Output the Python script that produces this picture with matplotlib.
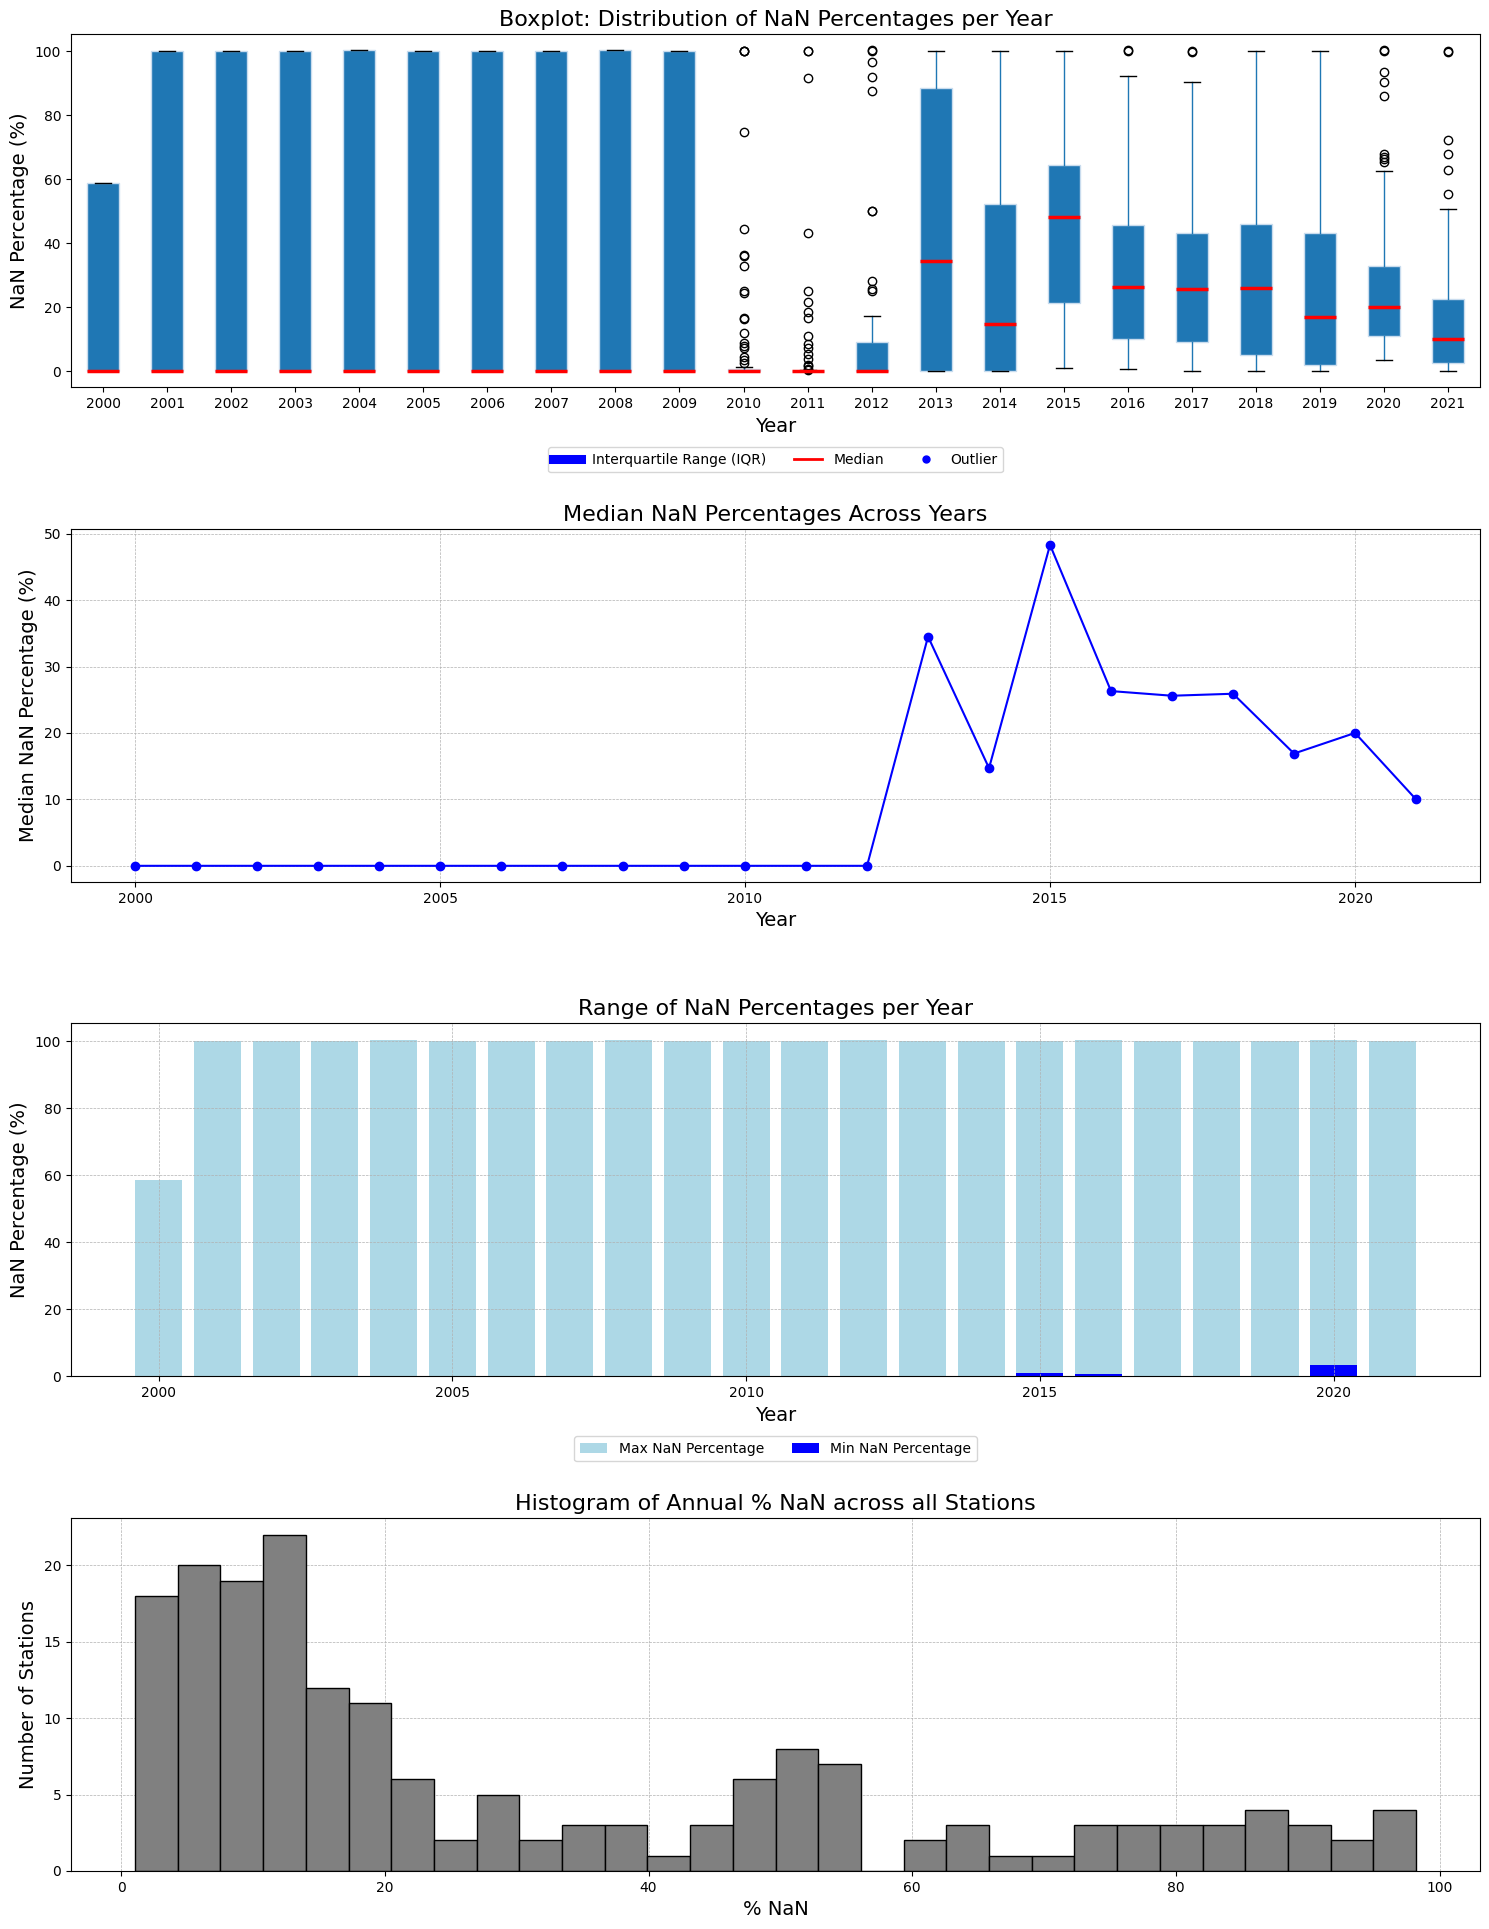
import numpy as np
import matplotlib
matplotlib.use("Agg")
import matplotlib.pyplot as plt
from matplotlib.lines import Line2D

# ----------------------------------------------------------------------
# data
# ----------------------------------------------------------------------
years = list(range(2000, 2022))

# boxplot stats per year
q1 = [0, 0, 0, 0, 0, 0, 0, 0, 0, 0, 0, 0, 0,
      0, 0.2, 21.4, 10.1, 9.2, 5.1, 2.0, 11.0, 2.7]
medians = [0, 0, 0, 0, 0, 0, 0, 0, 0, 0, 0, 0, 0,
           34.5, 14.7, 48.3, 26.3, 25.6, 25.9, 16.9, 20.0, 10.0]
q3 = [58.7, 100, 100, 100, 100.27, 100, 100, 100, 100.27, 100, 0.8, 0.1, 9.2,
      88.5, 52.3, 64.6, 45.7, 43.3, 46.1, 43.3, 33.0, 22.6]
whis_lo = [0, 0, 0, 0, 0, 0, 0, 0, 0, 0, 0, 0, 0,
           0, 0, 0.9, 0.6, 0, 0, 0, 3.5, 0]
whis_hi = [58.7, 100, 100, 100, 100.27, 100, 100, 100, 100.27, 100, 1.2, 0.3, 17.2,
           100, 100, 100, 92.2, 90.3, 100, 100, 62.5, 50.6]
outliers = {
    2010: [100, 100, 100, 74.7, 44.4, 36.4, 36.0, 32.8, 25.2, 24.4, 16.6, 16.4,
           11.9, 8.75, 8.0, 7.2, 4.6, 3.5, 2.7],
    2011: [100, 100, 91.6, 43.1, 25.2, 21.7, 18.6, 16.7, 11.0, 8.5, 7.2, 5.4,
           3.75, 2.1, 1.5, 0.7, 0.4],
    2012: [100.27, 100, 96.6, 91.9, 87.7, 50.2, 50.0, 28.2, 25.8, 25.2],
    2016: [100.27, 100],
    2017: [100, 99.8],
    2020: [100.27, 100, 93.4, 90.3, 85.9, 67.9, 67.1, 66.3, 65.3],
    2021: [100, 99.8, 72.2, 67.8, 62.8, 55.3],
}

# range per year
max_nan = [58.7, 100, 100, 100, 100.27, 100, 100, 100, 100.27, 100, 100, 100, 100.27,
           100, 100, 100, 100.27, 100, 100, 100, 100.27, 100]
min_nan = [0, 0, 0, 0, 0, 0, 0, 0, 0, 0, 0, 0, 0, 0, 0,
           0.9, 0.6, 0, 0, 0, 3.5, 0]

# histogram (30 bins)
hist_lo, hist_hi = 1.06, 98.2
hist_counts = [18, 20, 19, 22, 12, 11, 6, 2, 5, 2, 3, 3, 1, 3, 6,
               8, 7, 0, 2, 3, 1, 1, 3, 3, 3, 3, 4, 3, 2, 4]

# ----------------------------------------------------------------------
# figure
# ----------------------------------------------------------------------
fig, axes = plt.subplots(4, 1, figsize=(14.89, 19.29), dpi=100)
plt.subplots_adjust(left=0.0477, right=0.994, top=0.9822, bottom=0.0301, hspace=0.401)

# --- boxplot
ax = axes[0]
stats = []
for i, yr in enumerate(years):
    stats.append(dict(q1=q1[i], med=medians[i], q3=q3[i],
                      whislo=whis_lo[i], whishi=whis_hi[i],
                      fliers=outliers.get(yr, [])))
ax.bxp(stats, positions=range(1, len(years) + 1), widths=0.5, patch_artist=True,
       boxprops=dict(facecolor="#1f77b4", edgecolor="#c9dcee", linewidth=1),
       whiskerprops=dict(color="#1f77b4"),
       capprops=dict(color="black"),
       medianprops=dict(color="red", linewidth=2.5),
       flierprops=dict(marker="o", markerfacecolor="none", markeredgecolor="black"))
ax.set_xticks(range(1, len(years) + 1))
ax.set_xticklabels([str(y) for y in years])
ax.set_xlim(0.5, len(years) + 0.5)
ax.set_title("Boxplot: Distribution of NaN Percentages per Year", fontsize=16)
ax.set_xlabel("Year", fontsize=14)
ax.set_ylabel("NaN Percentage (%)", fontsize=14)
legend_items = [Line2D([0], [0], color="blue", lw=6.5, label="Interquartile Range (IQR)"),
                Line2D([0], [0], color="red", lw=2, label="Median"),
                Line2D([0], [0], marker="o", color="blue", linestyle="None",
                       markersize=5, label="Outlier")]
ax.legend(handles=legend_items, loc="upper center", bbox_to_anchor=(0.5, -0.15), ncol=3)

# --- median line chart
ax = axes[1]
ax.plot(years, medians, marker="o", color="blue")
ax.set_title("Median NaN Percentages Across Years", fontsize=16)
ax.set_xlabel("Year", fontsize=14)
ax.set_ylabel("Median NaN Percentage (%)", fontsize=14)
ax.grid(True, linestyle="--", linewidth=0.5)

# --- range bars
ax = axes[2]
ax.bar(years, max_nan, color="lightblue", label="Max NaN Percentage")
ax.bar(years, min_nan, color="blue", label="Min NaN Percentage")
ax.set_title("Range of NaN Percentages per Year", fontsize=16)
ax.set_xlabel("Year", fontsize=14)
ax.set_ylabel("NaN Percentage (%)", fontsize=14)
ax.grid(True, linestyle="--", linewidth=0.5)
ax.legend(loc="upper center", bbox_to_anchor=(0.5, -0.15), ncol=2)

# --- histogram
ax = axes[3]
edges = np.linspace(hist_lo, hist_hi, len(hist_counts) + 1)
ax.hist(edges[:-1], bins=edges, weights=hist_counts, color="gray", edgecolor="black")
ax.set_axisbelow(True)
ax.set_title("Histogram of Annual % NaN across all Stations", fontsize=16)
ax.set_xlabel("% NaN", fontsize=14)
ax.set_ylabel("Number of Stations", fontsize=14)
ax.grid(True, linestyle="--", linewidth=0.5)

fig.savefig("out.png", dpi=100)
